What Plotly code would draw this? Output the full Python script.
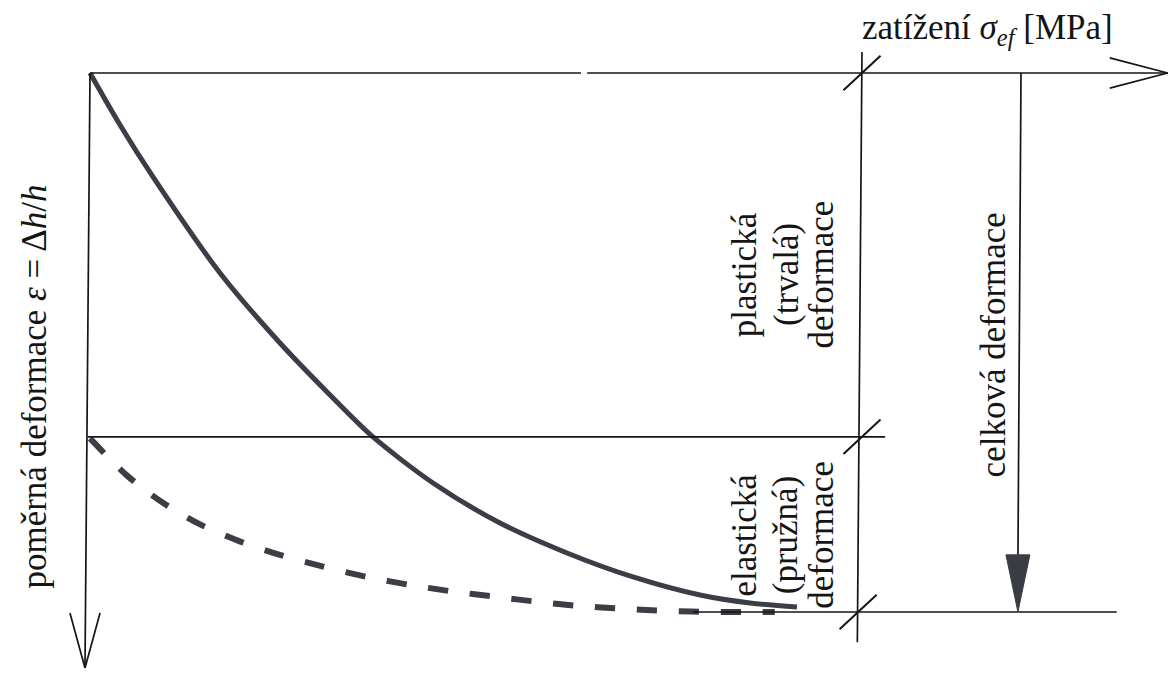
import plotly.graph_objects as go

# ---- data (σ in relative units, σ_ef = 10 ; ε relative, total = 10) ----
sigma_total = [0.0, 0.389, 0.816, 1.684, 2.461, 3.109, 3.666, 4.443, 5.311, 6.179, 7.034, 7.902, 8.549, 9.158]
eps_total = [0.0, 0.965, 1.929, 3.711, 5.010, 5.974, 6.753, 7.607, 8.349, 8.905, 9.350, 9.685, 9.833, 9.907]

sigma_elastic = [0.0, 0.48, 0.93, 1.42, 1.94, 2.46, 3.02, 3.59, 4.15, 4.70, 5.27, 5.79, 6.35, 6.90, 7.51, 8.07, 8.64, 8.87]
eps_elastic = [6.78, 7.47, 7.96, 8.37, 8.69, 8.94, 9.16, 9.35, 9.50, 9.62, 9.72, 9.81, 9.89, 9.94, 9.98, 10.0, 10.0, 10.0]

SIGMA_EF = 10.0
EPS_TOTAL = 10.0
EPS_PLASTIC = 6.75
SIGMA_AXIS_END = 13.96
EPS_AXIS_END = 11.04
SIGMA_TOTAL_ARROW = 12.02

# axis frame ranges
X_RANGE = [-1.166, 14.016]
Y_RANGE = [11.132, -1.354]

INK = "#151515"
CURVE = "#3b3e47"
FONT = "Liberation Serif"
FS = 35

fig = go.Figure()

fig.add_trace(go.Scatter(x=sigma_total, y=eps_total, mode="lines",
                         line=dict(color=CURVE, width=5, shape="spline", smoothing=0.8),
                         hoverinfo="skip", showlegend=False))
fig.add_trace(go.Scatter(x=sigma_elastic, y=eps_elastic, mode="lines",
                         line=dict(color=CURVE, width=6, shape="spline", smoothing=0.8, dash="20px,22px"),
                         hoverinfo="skip", showlegend=False))

shapes = []


def seg(x0, y0, x1, y1, w=1.7, color=INK):
    shapes.append(dict(type="line", xref="x", yref="y", x0=x0, y0=y0, x1=x1, y1=y1,
                       line=dict(color=color, width=w)))


# σ axis (top) with small scan gap
seg(0, 0, 6.36, 0)
seg(6.44, 0, SIGMA_AXIS_END, 0)
seg(SIGMA_AXIS_END - 0.75, -0.28, SIGMA_AXIS_END, 0)
seg(SIGMA_AXIS_END - 0.75, 0.28, SIGMA_AXIS_END, 0)

# ε axis (left)
seg(0, 0, -0.065, EPS_AXIS_END)
seg(-0.26, EPS_AXIS_END - 1.02, -0.065, EPS_AXIS_END)
seg(0.13, EPS_AXIS_END - 1.02, -0.065, EPS_AXIS_END)

# plastic / elastic boundary and total level
seg(-0.03, EPS_PLASTIC, SIGMA_EF + 0.30, EPS_PLASTIC)
seg(7.81, EPS_TOTAL, 13.30, EPS_TOTAL)

# vertical line at σ_ef
seg(SIGMA_EF, -0.39, SIGMA_EF - 0.06, 10.56)

# slanted ticks
for (sx, ey) in [(SIGMA_EF, 0.0), (SIGMA_EF, EPS_PLASTIC), (SIGMA_EF - 0.05, EPS_TOTAL)]:
    seg(sx - 0.24, ey + 0.32, sx + 0.24, ey - 0.32, w=2)

# total deformation arrow
seg(SIGMA_TOTAL_ARROW + 0.04, 0, SIGMA_TOTAL_ARROW, EPS_TOTAL - 0.9)
shapes.append(dict(type="path", xref="x", yref="y",
                   path=(f"M {SIGMA_TOTAL_ARROW - 0.155} {EPS_TOTAL - 1.06} "
                         f"L {SIGMA_TOTAL_ARROW + 0.155} {EPS_TOTAL - 1.06} "
                         f"L {SIGMA_TOTAL_ARROW} {EPS_TOTAL} Z"),
                   fillcolor="#3a3c44", line=dict(color="#3a3c44", width=1)))

fig.update_layout(shapes=shapes)

ann = []


def label(x, y, text, angle=0, xanchor="center", yanchor="middle"):
    ann.append(dict(x=x, y=y, xref="x", yref="y", xanchor=xanchor, yanchor=yanchor,
                    text=text, textangle=angle, showarrow=False,
                    font=dict(family=FONT, size=FS, color=INK)))


label(9.97, -0.80, "zatížení <i>σ</i><sub><i>ef</i></sub> [MPa]", xanchor="left")
label(-0.72, 5.81, "poměrná deformace <i>ε</i> = Δ<i>h</i>/<i>h</i>", angle=-90)

line_x = [8.48, 9.02, 9.48]
for lx, t in zip(line_x, ["plastická", "(trvalá)", "deformace"]):
    label(lx, 3.74, t, angle=-90)
for lx, t in zip(line_x, ["elastická", "(pružná)", "deformace"]):
    label(lx, 8.57, t, angle=-90)
label(11.70, 5.05, "celková deformace", angle=-90)

fig.update_layout(annotations=ann)

fig.update_layout(
    width=1172, height=673,
    margin=dict(l=0, r=0, t=0, b=0),
    paper_bgcolor="white", plot_bgcolor="white",
    xaxis=dict(range=X_RANGE, visible=False, fixedrange=True),
    yaxis=dict(range=Y_RANGE, visible=False, fixedrange=True),
    showlegend=False,
)

fig.write_html("out.html", config={"displayModeBar": False},
               post_script="document.body.style.margin='0px';")
